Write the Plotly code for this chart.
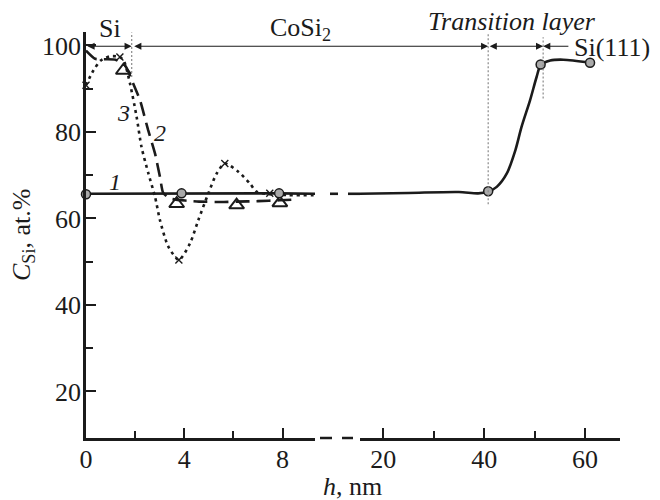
import plotly.graph_objects as go

# ---------------- data ----------------
# curve 1 (solid, grey circles) - left part of the broken axis
c1_left_line_h = [0, 3.89, 7.86, 9.6]
c1_left_line_c = [65.7, 65.8, 65.8, 65.7]
c1_left_pts_h = [0, 3.89, 7.86]
c1_left_pts_c = [65.6, 65.8, 65.8]
# curve 1 - right part of the broken axis
c1_right_line_h = [14.5, 25, 35, 38.8, 40.8, 42.5, 44.5, 46.2, 47.4, 49.1, 50.4, 51.2, 53.1, 55.7, 61]
c1_right_line_c = [65.7, 65.9, 66.1, 65.8, 66.2, 67.3, 70.4, 75.8, 81.1, 87.3, 92.7, 95.4, 96.5, 96.7, 96.0]
c1_right_pts_h = [40.8, 51.2, 61]
c1_right_pts_c = [66.3, 95.6, 96.0]

# curve 2 (dashed, open triangles)
c2_line_h = [0, 0.37, 0.8, 1.2, 1.6, 1.92, 2.2, 2.53, 2.81, 3.01, 3.14, 3.42, 4.1, 4.6, 5.5, 6.13, 7.0, 7.89, 8.56]
c2_line_c = [98.8, 96.9, 96.8, 96.7, 95.3, 91.2, 87.3, 80.4, 75.0, 69.6, 65.9, 64.6, 64.1, 63.9, 63.8, 63.9, 64.0, 64.2, 64.4]
c2_pts_h = [1.52, 3.69, 6.13, 7.89]
c2_pts_c = [94.2, 63.4, 63.1, 63.6]

# curve 3 (dotted, crosses)
c3_line_h = [0, 0.3, 0.6, 1.0, 1.38, 1.55, 1.79, 2.06, 2.26, 2.54, 2.81, 3.01, 3.35, 3.78, 4.23, 4.57,
             4.98, 5.32, 5.65, 6.2, 6.67, 6.94, 7.48, 8.2, 9.6]
c3_line_c = [90.8, 94.2, 96.5, 97.5, 97.3, 96.3, 91.2, 83.5, 76.5, 70.4, 65.0, 59.6, 53.5, 50.4, 54.2, 59.6,
             65.8, 70.4, 72.7, 70.8, 68.1, 66.2, 65.6, 65.4, 65.4]
c3_pts_h = [0, 1.38, 3.78, 5.65, 7.48]
c3_pts_c = [90.8, 97.3, 50.4, 72.7, 65.8]

# axis ticks
x1_ticks = [0, 4, 8]
x1_minor = [2, 6]
x2_ticks = [20, 40, 60]
x2_minor = [30, 50]
y_ticks = [20, 40, 60, 80, 100]
y_minor = [30, 50, 70, 90]

# layer boundaries (nm) and region labels
si_cosi_boundary = 1.86        # on left axis
cosi_trans_boundary = 40.8     # on right axis
trans_sub_boundary = 51.7      # on right axis
arrow_level = 99.8

# ---------------- layout geometry ----------------
OFF = 8                      # page body margin of the html page
W, H = 660, 500
ML, MR, MT, MB = 78, 48, 24, 70
PW = W - ML - MR
PH = H - MT - MB
X1_RANGE = [0, 9.32]
X2_RANGE = [15.38, 66.94]
Y_RANGE = [9.25, 103.1]
D1 = [0, 0.4288]
D2 = [0.5131, 1]

def px(v, rng, dom):
    f = (v - rng[0]) / (rng[1] - rng[0])
    return OFF + ML + PW * (dom[0] + f * (dom[1] - dom[0]))

def paper_x(screen_px):
    return (screen_px - OFF - ML) / PW

def paper_y(screen_py):
    return (OFF + MT + PH - screen_py) / PH

INK = "#1b1b1b"
FONT = "Liberation Serif"

fig = go.Figure()

# curve 1
fig.add_trace(go.Scatter(x=c1_left_line_h, y=c1_left_line_c, mode="lines",
                         line=dict(color=INK, width=2.6), xaxis="x", yaxis="y"))
fig.add_trace(go.Scatter(x=c1_right_line_h, y=c1_right_line_c, mode="lines",
                         line=dict(color=INK, width=2.6, shape="spline", smoothing=0.8),
                         xaxis="x2", yaxis="y"))
# curve 3
fig.add_trace(go.Scatter(x=c3_line_h, y=c3_line_c, mode="lines",
                         line=dict(color=INK, width=2.6, dash="3px,4px", shape="spline", smoothing=0.7),
                         xaxis="x", yaxis="y"))
fig.add_trace(go.Scatter(x=c3_pts_h, y=c3_pts_c, mode="markers", cliponaxis=False,
                         marker=dict(symbol="x-thin-open", size=7, color=INK, line=dict(color=INK, width=1.4)),
                         xaxis="x", yaxis="y"))
# curve 2
fig.add_trace(go.Scatter(x=c2_line_h, y=c2_line_c, mode="lines",
                         line=dict(color=INK, width=2.6, dash="14px,7px", shape="spline", smoothing=0.5),
                         xaxis="x", yaxis="y"))
fig.add_trace(go.Scatter(x=c2_pts_h, y=c2_pts_c, mode="markers", cliponaxis=False,
                         marker=dict(symbol="triangle-up-open", size=13, color=INK, line=dict(color=INK, width=2)),
                         xaxis="x", yaxis="y"))
# curve 1 markers (on top)
fig.add_trace(go.Scatter(x=c1_left_pts_h, y=c1_left_pts_c, mode="markers", cliponaxis=False,
                         marker=dict(symbol="circle", size=9, color="#a9a9a9", line=dict(color=INK, width=1.5)),
                         xaxis="x", yaxis="y"))
fig.add_trace(go.Scatter(x=c1_right_pts_h, y=c1_right_pts_c, mode="markers", cliponaxis=False,
                         marker=dict(symbol="circle", size=9, color="#a9a9a9", line=dict(color=INK, width=1.5)),
                         xaxis="x2", yaxis="y"))

axis_common = dict(showgrid=False, zeroline=False, showline=True, linecolor=INK, linewidth=2.5,
                   ticks="inside", ticklen=10, tickwidth=1.6, tickcolor=INK,
                   tickfont=dict(family=FONT, size=26, color=INK))
minor_common = dict(ticks="inside", ticklen=7, tickwidth=1.6, tickcolor=INK, showgrid=False)

fig.update_layout(
    width=W, height=H,
    margin=dict(l=ML, r=MR, t=MT, b=MB, autoexpand=False),
    plot_bgcolor="white", paper_bgcolor="white",
    showlegend=False,
    xaxis=dict(domain=D1, range=X1_RANGE, tickmode="array", tickvals=x1_ticks, ticklabelstandoff=-4,
               minor=dict(tickvals=x1_minor, **minor_common), anchor="y", **axis_common),
    xaxis2=dict(domain=D2, range=X2_RANGE, tickmode="array", tickvals=x2_ticks, ticklabelstandoff=-4,
                minor=dict(tickvals=x2_minor, **minor_common), anchor="y", **axis_common),
    yaxis=dict(range=Y_RANGE, tickmode="array", tickvals=y_ticks, ticklabelstandoff=-3,
               minor=dict(tickvals=y_minor, **minor_common), anchor="x", **axis_common),
)

shapes = []
# axis break dashes on the x axis
for a, b in [(320, 332), (342, 353)]:
    shapes.append(dict(type="line", xref="paper", yref="paper",
                       x0=paper_x(a), x1=paper_x(b), y0=0, y1=0,
                       line=dict(color=INK, width=2.5)))
# curve 1 crossing the break
for a, b in [(330, 338), (348, 360)]:
    shapes.append(dict(type="line", xref="paper", yref="y",
                       x0=paper_x(a), x1=paper_x(b), y0=65.7, y1=65.7,
                       line=dict(color=INK, width=2.6)))
# boundary dotted lines
shapes.append(dict(type="line", xref="x", yref="y", x0=si_cosi_boundary, x1=si_cosi_boundary,
                   y0=92.7, y1=103.0, line=dict(color="#8a8a8a", width=1.2, dash="2px,2px")))
shapes.append(dict(type="line", xref="x2", yref="y", x0=cosi_trans_boundary, x1=cosi_trans_boundary,
                   y0=63.3, y1=102.8, line=dict(color="#8a8a8a", width=1.2, dash="2px,2px")))
shapes.append(dict(type="line", xref="x2", yref="y", x0=trans_sub_boundary, x1=trans_sub_boundary,
                   y0=87.7, y1=101.9, line=dict(color="#8a8a8a", width=1.2, dash="2px,2px")))
fig.update_layout(shapes=shapes)

arrow_style = dict(text="", showarrow=True, arrowhead=2, arrowsize=1.3, arrowwidth=1.1,
                   arrowcolor=INK, standoff=0, startstandoff=0)
ann = []
# Si region
ann.append(dict(xref="x", yref="y", x=si_cosi_boundary, y=arrow_level,
                axref="x", ayref="y", ax=0, ay=arrow_level, arrowside="end+start", **arrow_style))
# CoSi2 region (crosses the axis break)
ann.append(dict(xref="x2", yref="y", x=cosi_trans_boundary, y=arrow_level,
                axref="pixel", ayref="pixel",
                ax=px(si_cosi_boundary, X1_RANGE, D1) - px(cosi_trans_boundary, X2_RANGE, D2) + 1, ay=0,
                arrowside="end+start", **arrow_style))
# transition layer
ann.append(dict(xref="x2", yref="y", x=trans_sub_boundary, y=arrow_level,
                axref="x2", ayref="y", ax=cosi_trans_boundary, ay=arrow_level,
                arrowside="end+start", **arrow_style))
# substrate
ann.append(dict(xref="x2", yref="y", x=trans_sub_boundary, y=arrow_level,
                axref="x2", ayref="y", ax=57.0, ay=arrow_level,
                arrowside="end", **arrow_style))

tf = dict(family=FONT, size=26, color=INK)
mid = dict(showarrow=False, xanchor="center", yanchor="middle")
ann.append(dict(xref="x", yref="paper", x=0.98, y=paper_y(28), text="Si", font=tf, **mid))
ann.append(dict(xref="x", yref="paper", x=8.75, y=paper_y(29), text="CoSi<sub>2</sub>", font=tf, **mid))
ann.append(dict(xref="x2", yref="paper", x=45.5, y=paper_y(21), text="<i>Transition layer</i>", font=tf, **mid))
ann.append(dict(xref="x2", yref="y", x=57.4, y=99.6, text="Si(111)", showarrow=False,
                xanchor="left", yanchor="middle", font=tf))

# curve numbers
nf = dict(family=FONT, size=24, color=INK)
ann.append(dict(xref="x", yref="y", x=1.18, y=68.5, text="<i>1</i>", font=nf, **mid))
ann.append(dict(xref="x", yref="y", x=3.01, y=79.7, text="<i>2</i>", font=nf, **mid))
ann.append(dict(xref="x", yref="y", x=1.52, y=84.3, text="<i>3</i>", font=nf, **mid))

# axis titles
ann.append(dict(xref="paper", yref="paper", x=paper_x(352), y=paper_y(487),
                text="<i>h</i>, nm", font=tf, **mid))
ann.append(dict(xref="paper", yref="paper", x=paper_x(23), y=0.5, textangle=-90,
                text="<i>C</i><sub>Si</sub>, at.%", font=tf, **mid))
fig.update_layout(annotations=ann)

fig.write_html("out.html")
